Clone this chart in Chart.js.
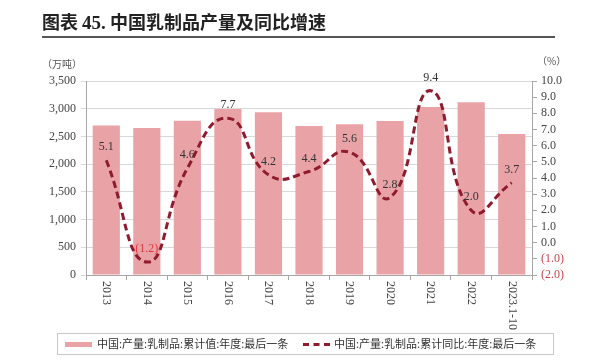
<!DOCTYPE html>
<html><head><meta charset="utf-8">
<script src="https://cdn.jsdelivr.net/npm/chart.js@4"></script>
<style>
body{margin:0;background:#fff;}
#wrap{position:relative;width:600px;height:360px;overflow:hidden;background:#fff;}
canvas{position:absolute;left:0;top:0;}
.t{position:absolute;white-space:nowrap;line-height:1;}
</style></head><body>
<div id="wrap">
<canvas id="c" width="600" height="360"></canvas>
<div class="t" style="left:42px;top:8px;font:bold 18px 'Noto Sans CJK SC';color:#222;">图表 <span style="font-family:'Liberation Serif';font-size:19px">45.</span> 中国乳制品产量及同比增速</div>
<div style="position:absolute;left:42px;top:36px;width:513px;height:2px;background:#555"></div>
<div class="t" style="left:42px;top:56px;font:10px 'Noto Sans CJK SC';color:#555">（万吨）</div>
<div class="t" style="left:537px;top:53px;font:10px 'Noto Sans CJK SC';color:#555">（%）</div>
<div id="legend" style="position:absolute;left:57px;top:333px;width:497px;height:22px;border:1px solid #c8c8c8;box-sizing:border-box;font:11px 'Noto Sans CJK SC';color:#333;">
  <span style="position:absolute;left:7px;top:8px;width:27px;height:5px;background:#E9A3A7"></span>
  <span class="t" style="left:39px;top:4px">中国:产量:乳制品:累计值:年度:最后一条</span>
  <span style="position:absolute;left:245px;top:9px;width:27px;height:0;border-top:3px dashed #8E1B2E"></span>
  <span class="t" style="left:276px;top:4px">中国:产量:乳制品:累计同比:年度:最后一条</span>
</div>
</div>
<script>
const categories = ['2013','2014','2015','2016','2017','2018','2019','2020','2021','2022','2023.1-10'];
const outputValues = [2698,2652,2782,2993,2935,2687,2719,2780,3031,3118,2544];
const growthValues = [5.1,-1.2,4.6,7.7,4.2,4.4,5.6,2.8,9.4,2.0,3.7];
const leftTickValues = [0,500,1000,1500,2000,2500,3000,3500];
const rightTickValues = [-2,-1,0,1,2,3,4,5,6,7,8,9,10];

const SERIF = "'Liberation Serif', 'Times New Roman', serif";

const fmtPct = v => v < 0 ? '(' + Math.abs(v).toFixed(1) + ')' : v.toFixed(1);

const labelPlugin = {
  id: 'valueLabels',
  afterDatasetsDraw(chart) {
    const ctx = chart.ctx;
    const xs = chart.scales.x, ys = chart.scales.y1;
    ctx.save();
    ctx.font = '12px ' + SERIF;
    ctx.textAlign = 'center';
    ctx.textBaseline = 'middle';
    growthValues.forEach((v, i) => {
      const x = xs.getPixelForValue(i);
      const y = ys.getPixelForValue(v);
      ctx.fillStyle = v < 0 ? '#E0383E' : '#333';
      ctx.fillText(fmtPct(v), x, y - 13);
    });
    ctx.restore();
  }
};

const xLabelPlugin = {
  id: 'xLabels',
  afterDraw(chart) {
    const ctx = chart.ctx;
    const xs = chart.scales.x;
    ctx.save();
    ctx.font = '12px ' + SERIF;
    ctx.fillStyle = '#444';
    ctx.textAlign = 'left';
    ctx.textBaseline = 'middle';
    categories.forEach((c, i) => {
      const x = xs.getPixelForValue(i);
      ctx.save();
      ctx.translate(x, xs.top + 6);
      ctx.rotate(Math.PI / 2);
      ctx.fillText(c, 0, 0);
      ctx.restore();
    });
    ctx.restore();
  }
};

new Chart(document.getElementById('c'), {
  data: {
    labels: categories,
    datasets: [
      {
        type: 'line',
        label: '中国:产量:乳制品:累计同比:年度:最后一条',
        data: growthValues,
        yAxisID: 'y1',
        borderColor: '#8E1B2E',
        borderWidth: 3,
        borderDash: [7, 4],
        pointRadius: 0,
        tension: 0.5,
        fill: false,
        order: 1
      },
      {
        type: 'bar',
        label: '中国:产量:乳制品:累计值:年度:最后一条',
        data: outputValues,
        yAxisID: 'y',
        backgroundColor: '#E9A3A7',
        barPercentage: 0.67,
        categoryPercentage: 1,
        order: 2
      }
    ]
  },
  options: {
    responsive: false,
    animation: false,
    layout: { padding: { top: 81, bottom: 28, left: 0, right: 0 } },
    plugins: { legend: { display: false }, tooltip: { enabled: false } },
    scales: {
      x: {
        offset: true,
        grid: { offset: true, drawOnChartArea: false, tickLength: 5, color: '#A6A6A6' },
        border: { color: '#A6A6A6' },
        ticks: { color: 'rgba(0,0,0,0)', font: { family: SERIF, size: 12 }, minRotation: 90, maxRotation: 90, autoSkip: false },
        afterFit: s => { s.height = 57; }
      },
      y: {
        position: 'left',
        min: 0, max: 3500,
        afterBuildTicks: s => { s.ticks = leftTickValues.map(v => ({ value: v })); },
        ticks: {
          autoSkip: false,
          color: '#444', font: { family: SERIF, size: 12 }, padding: 5,
          callback: v => v.toLocaleString('en-US')
        },
        grid: { color: '#D9D9D9', tickLength: 5 },
        border: { color: '#A6A6A6' },
        afterFit: s => { s.width = 86; }
      },
      y1: {
        position: 'right',
        min: -2, max: 10,
        afterBuildTicks: s => { s.ticks = rightTickValues.map(v => ({ value: v })); },
        ticks: {
          autoSkip: false,
          font: { family: SERIF, size: 12 }, padding: 4,
          color: c => (c.tick && c.tick.value < 0) ? '#C8464B' : '#444',
          callback: v => fmtPct(v)
        },
        grid: { drawOnChartArea: false, color: '#A6A6A6', tickLength: 5 },
        border: { color: '#A6A6A6' },
        afterFit: s => { s.width = 68; }
      }
    }
  },
  plugins: [labelPlugin, xLabelPlugin]
});
</script>
</body></html>
